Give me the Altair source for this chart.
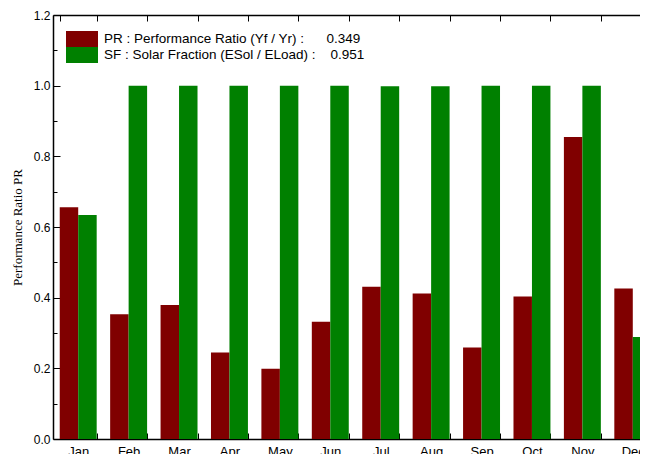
import altair as alt
import pandas as pd

months = ["Jan", "Feb", "Mar", "Apr", "May", "Jun", "Jul", "Aug", "Sep", "Oct", "Nov", "Dec"]
pr_values = [0.656, 0.353, 0.379, 0.245, 0.199, 0.332, 0.431, 0.412, 0.259, 0.403, 0.855, 0.426]
sf_values = [0.634, 1.0, 1.0, 1.0, 1.0, 1.0, 0.998, 0.998, 1.0, 1.0, 1.0, 0.289]
series_labels = [
    "PR : Performance Ratio (Yf / Yr) :\u00a0\u00a0\u00a0\u00a0\u00a0\u00a00.349",
    "SF : Solar Fraction (ESol / ELoad) :\u00a0\u00a0\u00a0\u00a00.951",
]
series_colors = ["#800000", "#008000"]
y_major = [0.0, 0.2, 0.4, 0.6, 0.8, 1.0, 1.2]
y_minor = [0.1, 0.3, 0.5, 0.7, 0.9, 1.1]

rows = []
for m, p, s in zip(months, pr_values, sf_values):
    rows.append({"month": m, "series": series_labels[0], "value": p})
    rows.append({"month": m, "series": series_labels[1], "value": s})
df = pd.DataFrame(rows)

xscale = alt.Scale(domain=months, paddingInner=0.267, paddingOuter=0.1335)
yscale = alt.Scale(domain=[0, 1.2], nice=False, zero=True)

bars = alt.Chart(df).mark_bar().encode(
    x=alt.X("month:N", sort=months, scale=xscale, title=None,
            axis=alt.Axis(orient="bottom", tickBand="extent", tickSize={"expr": "-6"},
                          labelAngle=0, labelPadding=12, labelFontSize=13,
                          labelFont="Liberation Sans", labelColor="black",
                          domainColor="black", domainWidth=1.5, tickColor="black",
                          tickWidth=1)),
    xOffset=alt.XOffset("series:N", sort=series_labels,
                        scale=alt.Scale(paddingInner=0, paddingOuter=0)),
    y=alt.Y("value:Q", scale=yscale, title="Performance Ratio PR",
            axis=alt.Axis(orient="left", values=y_major, format=".1f",
                          tickSize={"expr": "-7"}, labelPadding=10, labelFontSize=12,
                          labelFont="Liberation Sans", labelColor="black",
                          domainColor="black", domainWidth=1.5, tickColor="black",
                          tickWidth=1, grid=False,
                          titleFont="Liberation Serif", titleFontSize=13,
                          titleFontWeight="normal", titleColor="black",
                          titleAngle=270, titleX=-32, titleY=212,
                          titleBaseline="alphabetic", titleAlign="center")),
    color=alt.Color("series:N", sort=series_labels,
                    scale=alt.Scale(domain=series_labels, range=series_colors),
                    legend=alt.Legend(orient="none", legendX=21, legendY=16, title=None,
                                      symbolType="M-2,-1H2V1H-2Z", symbolSize=256,
                                      symbolStrokeWidth=0, symbolOpacity=1,
                                      labelFont="Liberation Sans", labelFontSize=13.5,
                                      labelColor="black", labelOffset=14,
                                      rowPadding=0, padding=0, labelLimit=400)),
)

frame = alt.Chart(df).mark_bar(opacity=0).encode(
    x=alt.X("month:N", sort=months, scale=xscale, title=None,
            axis=alt.Axis(orient="top", tickBand="extent", tickSize={"expr": "-6"},
                          labels=False, domainColor="black", domainWidth=1.5,
                          tickColor="black", tickWidth=1)),
    y=alt.Y("value:Q", scale=yscale, title=None,
            axis=alt.Axis(orient="left", values=y_minor, labels=False, domain=False,
                          tickSize={"expr": "-4"}, tickColor="black", tickWidth=1,
                          grid=False)),
)

chart = alt.layer(bars, frame).resolve_axis(x="independent", y="independent").properties(
    width=605, height=424,
    autosize=alt.AutoSizeParams(type="none"),
    padding={"left": 45, "top": 7, "right": -18, "bottom": 15},
).configure_view(stroke=None).configure(background="white")

chart.save("out.html", embed_options={"renderer": "svg", "actions": False})
